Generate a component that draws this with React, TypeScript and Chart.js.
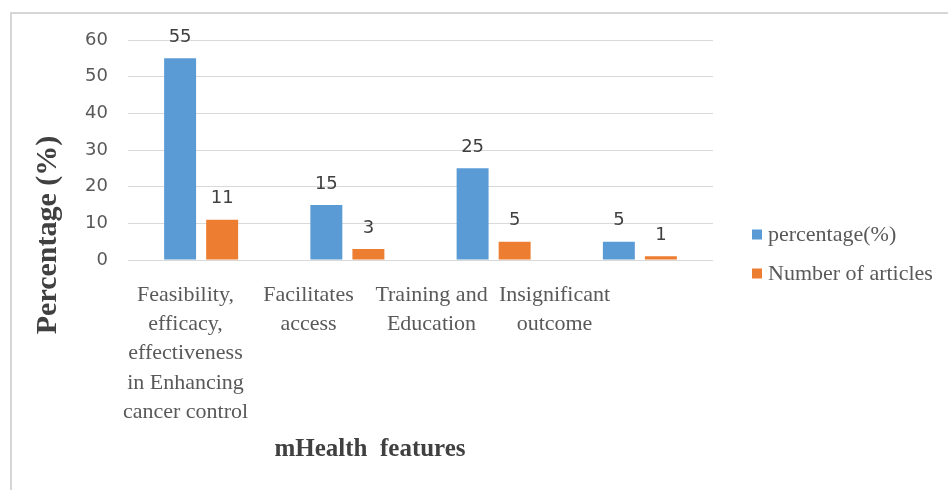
import React, { useEffect, useRef } from "react";
import { Chart, registerables } from "chart.js";

Chart.register(...registerables);

// mHealth feature categories (multi-line tick labels)
const categories: string[][] = [
  ["Feasibility,", "efficacy,", "effectiveness", "in Enhancing", "cancer control"],
  ["Facilitates", "access"],
  ["Training and", "Education"],
  ["Insignificant", "outcome"],
];

const percentageValues = [55, 15, 25, 5];
const articleCounts = [11, 3, 5, 1];

const seriesNames = ["percentage(%)", "Number of articles"];
const seriesColors = ["#5b9bd5", "#ed7d31"];

const yMin = 0;
const yMax = 60;
const yStep = 10;

const xTitle = "mHealth  features";
const yTitle = "Percentage (%)";

// The category text row sits on its own axis, set a little tighter than the bars
const labelAxisMin = -0.5;
const labelAxisMax = 4.256;

const SANS = "'DejaVu Sans', sans-serif";
const SERIF = "'Liberation Serif', 'Times New Roman', serif";

// Value labels drawn above each bar
const valueLabels = {
  id: "valueLabels",
  afterDatasetsDraw(chart: any) {
    const ctx = chart.ctx;
    ctx.save();
    ctx.font = `18px ${SANS}`;
    ctx.fillStyle = "#404040";
    ctx.textAlign = "center";
    ctx.textBaseline = "middle";
    chart.data.datasets.forEach((ds: any, di: number) => {
      const meta = chart.getDatasetMeta(di);
      meta.data.forEach((bar: any, i: number) => {
        ctx.fillText(String(ds.data[i]), bar.x, bar.y - 21);
      });
    });
    ctx.restore();
  },
};

// Axis titles: vertical one beside the value ticks, horizontal one under the category text
const axisTitles = {
  id: "axisTitles",
  afterDraw(chart: any) {
    const ctx = chart.ctx;
    const labelAxis = chart.scales.xLabels;
    ctx.save();
    ctx.fillStyle = "#404040";
    ctx.textAlign = "center";
    ctx.textBaseline = "middle";

    ctx.font = `bold 25px ${SERIF}`;
    ctx.fillText(xTitle, labelAxis.getPixelForValue(1.5) - 4, 436);

    ctx.translate(36, 221);
    ctx.rotate(-Math.PI / 2);
    ctx.font = `bold 30px ${SERIF}`;
    ctx.fillText(yTitle, 0, 0);
    ctx.restore();
  },
};

// Legend stacked to the right of the plot area
const sideLegend = {
  id: "sideLegend",
  afterDraw(chart: any) {
    const ctx = chart.ctx;
    const { chartArea } = chart;
    const spacing = 39;
    const n = chart.data.datasets.length;
    const midY = chart.height / 2 + 2;
    const x0 = chartArea.right + 39;
    ctx.save();
    ctx.font = `22px ${SERIF}`;
    ctx.textAlign = "left";
    ctx.textBaseline = "middle";
    chart.data.datasets.forEach((ds: any, i: number) => {
      const y = midY + (i - (n - 1) / 2) * spacing;
      ctx.fillStyle = ds.backgroundColor;
      ctx.fillRect(x0, y - 5, 10, 10);
      ctx.fillStyle = "#595959";
      ctx.fillText(ds.label, x0 + 16, y + 1);
    });
    ctx.restore();
  },
};

export default function App() {
  const canvasRef = useRef<HTMLCanvasElement | null>(null);

  useEffect(() => {
    if (!canvasRef.current) return;
    const chart = new Chart(canvasRef.current, {
      type: "bar",
      data: {
        labels: categories.map((c) => c.join(" ")),
        datasets: [
          {
            label: seriesNames[0],
            data: percentageValues,
            backgroundColor: seriesColors[0],
            categoryPercentage: 0.575,
            barPercentage: 0.76,
            xAxisID: "x",
          },
          {
            label: seriesNames[1],
            data: articleCounts,
            backgroundColor: seriesColors[1],
            categoryPercentage: 0.575,
            barPercentage: 0.76,
            xAxisID: "x",
          },
        ],
      },
      options: {
        responsive: false,
        animation: false,
        layout: { padding: { top: 26, right: 235, left: 0, bottom: 0 } },
        plugins: {
          legend: { display: false },
          tooltip: { enabled: false },
        },
        scales: {
          x: {
            type: "category",
            display: false,
          },
          xLabels: {
            type: "linear",
            position: "bottom",
            offset: false,
            min: labelAxisMin,
            max: labelAxisMax,
            grid: { display: false, drawTicks: false, offset: false },
            border: { display: false },
            afterBuildTicks(scale: any) {
              scale.ticks = categories.map((_, i) => ({ value: i }));
            },
            ticks: {
              autoSkip: false,
              maxRotation: 0,
              minRotation: 0,
              padding: 20,
              labelOffset: -4,
              color: "#595959",
              font: { family: SERIF, size: 22, lineHeight: 1.34 },
              callback: (v: any) => categories[Math.round(Number(v))] ?? "",
            },
            afterFit(scale: any) {
              scale.height = 230;
            },
          },
          y: {
            min: yMin,
            max: yMax,
            grid: { color: "#d9d9d9", lineWidth: 1, drawTicks: false },
            border: { display: false },
            ticks: {
              stepSize: yStep,
              padding: 20,
              color: "#595959",
              font: { family: SANS, size: 18 },
            },
            afterFit(scale: any) {
              scale.width = 116;
              // the layout padding already leaves room for the top and bottom tick labels
              scale.paddingTop = 0;
              scale.paddingBottom = 0;
            },
          },
        },
      },
      plugins: [valueLabels, axisTitles, sideLegend],
    });
    return () => chart.destroy();
  }, []);

  return (
    <div
      style={{
        position: "absolute",
        left: 10,
        top: 12,
        width: 938,
        height: 478,
        boxSizing: "border-box",
        borderTop: "2px solid #d6d6d6",
        borderLeft: "2px solid #d6d6d6",
        background: "#ffffff",
      }}
    >
      <canvas
        ref={canvasRef}
        width={936}
        height={476}
        style={{ display: "block", width: 936, height: 476 }}
      />
    </div>
  );
}
